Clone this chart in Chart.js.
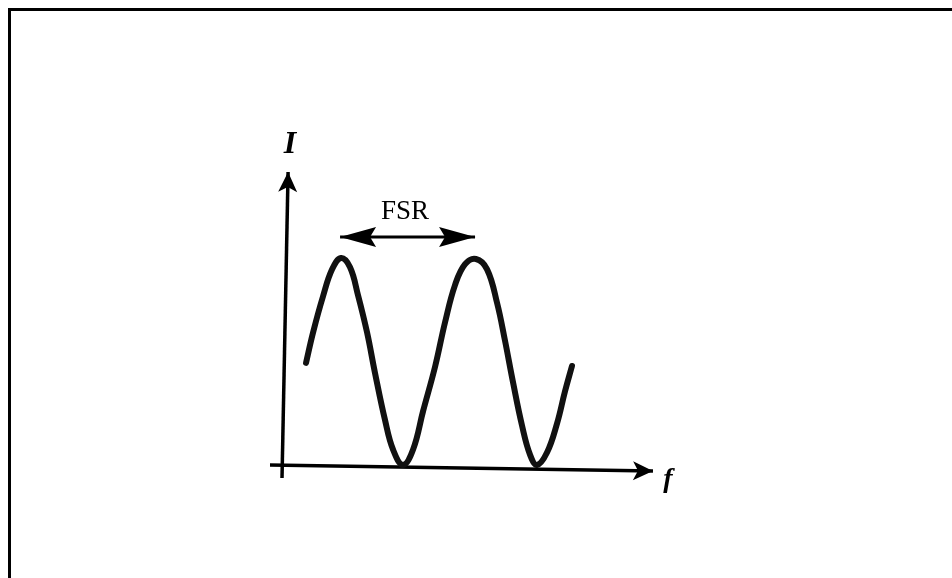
<!DOCTYPE html>
<html>
<head>
<meta charset="utf-8">
<script src="https://cdn.jsdelivr.net/npm/chart.js@4/dist/chart.umd.min.js"></script>
<style>
  body { margin: 0; background: #fff; }
  #wrap { position: relative; width: 952px; height: 578px; overflow: hidden; }
  #frame { position: absolute; left: 8px; top: 8px; right: -4px; bottom: -4px;
           border-top: 3px solid #000; border-left: 3px solid #000; }
  canvas { position: absolute; left: 0; top: 0; }
</style>
</head>
<body>
<div id="wrap">
  <canvas id="fsrChart" width="952" height="578"></canvas>
  <div id="frame"></div>
</div>
<script>
// transmission curve (f in FSR units, I normalised)
const freq = [0.163, 0.215, 0.289, 0.356, 0.422, 0.489, 0.548, 0.615, 0.674, 0.748, 0.807, 0.881,
              0.956, 1.030, 1.119, 1.193, 1.267, 1.341, 1.422, 1.504, 1.578, 1.637, 1.696, 1.763,
              1.822, 1.874, 1.948, 2.022, 2.081, 2.133];
const intensity = [0.493, 0.640, 0.815, 0.945, 1.0, 0.955, 0.820, 0.640, 0.444, 0.217, 0.075, 0.0,
                   0.075, 0.260, 0.475, 0.690, 0.870, 0.970, 0.995, 0.945, 0.783, 0.600, 0.400, 0.190,
                   0.050, 0.0, 0.060, 0.200, 0.355, 0.478];

// axes and the FSR marker
const xAxisF = [-0.104, 2.733];
const xAxisI = [0.0, -0.029];
const yAxisF = [-0.015, 0.03];
const yAxisI = [-0.063, 1.415];
const fsrF = [0.415, 1.415];
const fsrI = [1.101, 1.101];

// labels
const labelText = ['I', 'f', 'FSR'];
const labelF = [0.044, 2.844, 0.896];
const labelI = [1.546, -0.072, 1.222];
const labelFont = ['italic bold 32px "Liberation Serif"', 'italic bold 28px "Liberation Serif"', '27px "Liberation Serif"'];

function toPoints(xs, ys) {
    return xs.map((x, i) => ({ x: x, y: ys[i] }));
}

// arrowheads at line ends
const arrowPlugin = {
    id: 'arrows',
    afterDatasetsDraw(chart) {
        const ctx = chart.ctx;
        chart.data.datasets.forEach((ds, i) => {
            if (!ds.arrow) return;
            const pts = chart.getDatasetMeta(i).data;
            const heads = [];
            if (ds.arrow.end) heads.push([pts[pts.length - 1], pts[pts.length - 2]]);
            if (ds.arrow.start) heads.push([pts[0], pts[1]]);
            heads.forEach(([tip, from]) => {
                const a = Math.atan2(tip.y - from.y, tip.x - from.x);
                const { len, half, notch } = ds.arrow;
                ctx.save();
                ctx.translate(tip.x, tip.y);
                ctx.rotate(a);
                ctx.beginPath();
                ctx.moveTo(0, 0);
                ctx.lineTo(-len, -half);
                ctx.lineTo(-len + notch, 0);
                ctx.lineTo(-len, half);
                ctx.closePath();
                ctx.fillStyle = '#000';
                ctx.fill();
                ctx.restore();
            });
        });
    }
};

// text labels placed through the scales
const labelPlugin = {
    id: 'labels',
    afterDraw(chart) {
        const ctx = chart.ctx;
        const xs = chart.scales.x, ys = chart.scales.y;
        ctx.save();
        ctx.fillStyle = '#000';
        ctx.textAlign = 'center';
        ctx.textBaseline = 'middle';
        labelText.forEach((t, i) => {
            ctx.font = labelFont[i];
            ctx.fillText(t, xs.getPixelForValue(labelF[i]), ys.getPixelForValue(labelI[i]));
        });
        ctx.restore();
    }
};

const ctx = document.getElementById('fsrChart').getContext('2d');
new Chart(ctx, {
    type: 'scatter',
    data: {
        datasets: [
            {
                data: toPoints(freq, intensity),
                showLine: true,
                borderColor: '#111',
                borderWidth: 6,
                tension: 0.4,
                pointRadius: 0,
                borderCapStyle: 'round',
                borderJoinStyle: 'round'
            },
            {
                data: toPoints(xAxisF, xAxisI),
                showLine: true,
                borderColor: '#000',
                borderWidth: 3.5,
                pointRadius: 0,
                arrow: { end: true, len: 20, half: 9.5, notch: 5 }
            },
            {
                data: toPoints(yAxisF, yAxisI),
                showLine: true,
                borderColor: '#000',
                borderWidth: 3.5,
                pointRadius: 0,
                arrow: { end: true, len: 20, half: 9.5, notch: 5 }
            },
            {
                data: toPoints(fsrF, fsrI),
                showLine: true,
                borderColor: '#000',
                borderWidth: 3,
                pointRadius: 0,
                arrow: { start: true, end: true, len: 36, half: 10, notch: 6 }
            }
        ]
    },
    options: {
        responsive: false,
        animation: false,
        layout: { padding: 0 },
        plugins: { legend: { display: false }, tooltip: { enabled: false } },
        scales: {
            x: { type: 'linear', min: -2.104, max: 4.948, display: false },
            y: { type: 'linear', min: -0.546, max: 2.246, display: false }
        }
    },
    plugins: [arrowPlugin, labelPlugin]
});
</script>
</body>
</html>
